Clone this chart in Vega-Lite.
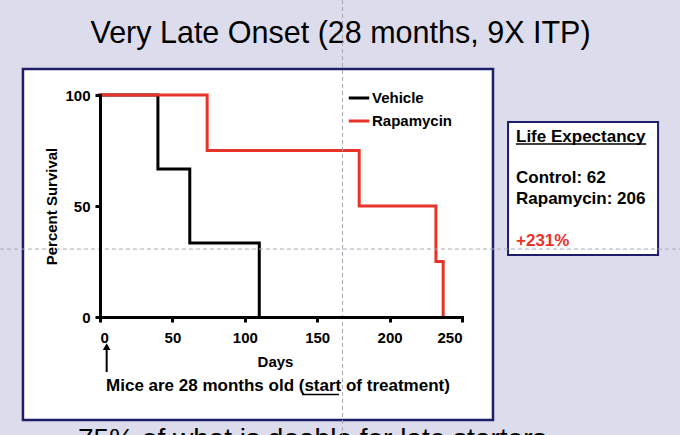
{
  "$schema": "https://vega.github.io/schema/vega-lite/v6.json",
  "width": 362,
  "height": 222,
  "autosize": {"type": "none"},
  "padding": {"left": 100, "top": 95, "right": 218, "bottom": 118},
  "background": "#dcdcec",
  "config": {
    "view": {"stroke": null},
    "font": "Liberation Sans",
    "axis": {
      "grid": false,
      "domainColor": "#000000",
      "domainWidth": 3,
      "domainCap": "square",
      "tickColor": "#000000",
      "tickWidth": 3,
      "tickSize": 5,
      "labelFont": "Liberation Sans",
      "labelFontSize": 15,
      "labelFontWeight": "bold",
      "labelColor": "#000000",
      "titleFont": "Liberation Sans",
      "titleFontSize": 15,
      "titleFontWeight": "bold",
      "titleColor": "#000000"
    }
  },
  "datasets": {
    "survival": [
      {"group": "Vehicle", "day": 0, "percent": 100},
      {"group": "Vehicle", "day": 40, "percent": 66.7},
      {"group": "Vehicle", "day": 62, "percent": 33.3},
      {"group": "Vehicle", "day": 110, "percent": 0},
      {"group": "Rapamycin", "day": 0, "percent": 100},
      {"group": "Rapamycin", "day": 74, "percent": 75},
      {"group": "Rapamycin", "day": 179, "percent": 50},
      {"group": "Rapamycin", "day": 232, "percent": 25},
      {"group": "Rapamycin", "day": 237, "percent": 0}
    ],
    "one": [{}]
  },
  "layer": [
    {
      "data": {"name": "one"},
      "mark": {"type": "rect", "fill": "#ffffff", "stroke": "#1e1e6a", "strokeWidth": 2.5},
      "encoding": {
        "x": {"datum": -53.2, "type": "quantitative"},
        "x2": {"datum": 271.4},
        "y": {"datum": 111.7, "type": "quantitative"},
        "y2": {"datum": -46.4}
      }
    },
    {
      "data": {"name": "one"},
      "mark": {"type": "rect", "fill": "#ffffff", "stroke": "#1e1e6a", "strokeWidth": 2},
      "encoding": {
        "x": {"datum": 281.8, "type": "quantitative"},
        "x2": {"datum": 385.4},
        "y": {"datum": 87.8, "type": "quantitative"},
        "y2": {"datum": 27.9}
      }
    },
    {
      "data": {"name": "survival"},
      "mark": {"type": "line", "interpolate": "step-after", "strokeWidth": 3, "strokeCap": "square"},
      "encoding": {
        "x": {
          "field": "day",
          "type": "quantitative",
          "scale": {"domain": [0, 250], "nice": false, "zero": false},
          "axis": {"zindex": 1, "values": [0, 50, 100, 150, 200, 250], "title": "Days", "labelPadding": 8, "titleX": 175, "titleY": 49, "titleBaseline": "alphabetic"}
        },
        "y": {
          "field": "percent",
          "type": "quantitative",
          "scale": {"domain": [0, 100], "nice": false, "zero": false},
          "axis": {"zindex": 1, "values": [0, 50, 100], "title": "Percent Survival", "labelPadding": 5, "titleX": -44, "titleBaseline": "alphabetic"}
        },
        "color": {
          "field": "group",
          "type": "nominal",
          "scale": {"domain": ["Vehicle", "Rapamycin"], "range": ["#000000", "#e8332a"]},
          "legend": {
            "orient": "none",
            "legendX": 247,
            "legendY": -9,
            "title": null,
            "padding": 0,
            "symbolType": "stroke",
            "symbolSize": 420,
            "symbolStrokeWidth": 3,
            "labelFont": "Liberation Sans",
            "labelFontSize": 15,
            "labelFontWeight": "bold",
            "labelColor": "#000000",
            "labelOffset": 1,
            "rowPadding": 3
          }
        }
      }
    },
    {
      "data": {"name": "one"},
      "mark": {"type": "text", "font": "Liberation Sans", "fontSize": 30.5, "align": "center", "baseline": "alphabetic", "color": "#000000", "text": "Very Late Onset (28 months, 9X ITP)"},
      "encoding": {
        "x": {"datum": 166.1, "type": "quantitative"},
        "y": {"datum": 123.4, "type": "quantitative"}
      }
    },
    {
      "data": {"name": "one"},
      "mark": {"type": "text", "font": "Liberation Sans", "fontSize": 17, "fontWeight": "bold", "align": "left", "baseline": "alphabetic", "color": "#000000", "text": "Life Expectancy"},
      "encoding": {
        "x": {"datum": 287.3, "type": "quantitative"},
        "y": {"datum": 78.8, "type": "quantitative"}
      }
    },
    {
      "data": {"name": "one"},
      "mark": {"type": "rule", "color": "#000000", "strokeWidth": 1.5},
      "encoding": {
        "x": {"datum": 287.3, "type": "quantitative"},
        "x2": {"datum": 377.2},
        "y": {"datum": 77.9, "type": "quantitative"}
      }
    },
    {
      "data": {"name": "one"},
      "mark": {"type": "text", "font": "Liberation Sans", "fontSize": 17, "fontWeight": "bold", "align": "left", "baseline": "alphabetic", "color": "#000000", "text": "Control: 62"},
      "encoding": {
        "x": {"datum": 287.3, "type": "quantitative"},
        "y": {"datum": 60.2, "type": "quantitative"}
      }
    },
    {
      "data": {"name": "one"},
      "mark": {"type": "text", "font": "Liberation Sans", "fontSize": 17, "fontWeight": "bold", "align": "left", "baseline": "alphabetic", "color": "#000000", "text": "Rapamycin: 206"},
      "encoding": {
        "x": {"datum": 287.3, "type": "quantitative"},
        "y": {"datum": 50.8, "type": "quantitative"}
      }
    },
    {
      "data": {"name": "one"},
      "mark": {"type": "text", "font": "Liberation Sans", "fontSize": 17, "fontWeight": "bold", "align": "left", "baseline": "alphabetic", "color": "#e8332a", "text": "+231%"},
      "encoding": {
        "x": {"datum": 287.3, "type": "quantitative"},
        "y": {"datum": 32, "type": "quantitative"}
      }
    },
    {
      "data": {"name": "one"},
      "mark": {"type": "text", "font": "Liberation Sans", "fontSize": 17, "fontWeight": "bold", "align": "center", "baseline": "alphabetic", "color": "#000000", "text": "Mice are 28 months old (start of treatment)"},
      "encoding": {
        "x": {"datum": 122.9, "type": "quantitative"},
        "y": {"datum": -33.2, "type": "quantitative"}
      }
    },
    {
      "data": {"name": "one"},
      "mark": {"type": "rule", "color": "#000000", "strokeWidth": 1.5},
      "encoding": {
        "x": {"datum": 139.5, "type": "quantitative"},
        "x2": {"datum": 165},
        "y": {"datum": -34.9, "type": "quantitative"}
      }
    },
    {
      "data": {"name": "one"},
      "mark": {"type": "rule", "color": "#000000", "strokeWidth": 2},
      "encoding": {
        "x": {"datum": 4.6, "type": "quantitative"},
        "y": {"datum": -14.5, "type": "quantitative"},
        "y2": {"datum": -24.8}
      }
    },
    {
      "data": {"name": "one"},
      "mark": {"type": "point", "shape": "triangle-up", "filled": true, "color": "#000000", "size": 60, "opacity": 1},
      "encoding": {
        "x": {"datum": 4.6, "type": "quantitative"},
        "y": {"datum": -13.3, "type": "quantitative"}
      }
    },
    {
      "data": {"name": "one"},
      "mark": {"type": "text", "font": "Liberation Sans", "fontSize": 28, "align": "left", "baseline": "alphabetic", "color": "#000000", "text": "75% of what is doable for late starters"},
      "encoding": {
        "x": {"datum": -15.2, "type": "quantitative"},
        "y": {"datum": -59, "type": "quantitative"}
      }
    },
    {
      "data": {"name": "one"},
      "mark": {"type": "rule", "color": "#a9a9b4", "strokeWidth": 1, "strokeDash": [4, 3]},
      "encoding": {
        "x": {"datum": 167.5, "type": "quantitative"},
        "y": {"datum": 142.8, "type": "quantitative"},
        "y2": {"datum": -53.2}
      }
    },
    {
      "data": {"name": "one"},
      "mark": {"type": "rule", "color": "#a9a9b4", "strokeWidth": 1, "strokeDash": [4, 3]},
      "encoding": {
        "x": {"datum": -69.1, "type": "quantitative"},
        "x2": {"datum": 400.6},
        "y": {"datum": 30.6, "type": "quantitative"}
      }
    }
  ]
}
